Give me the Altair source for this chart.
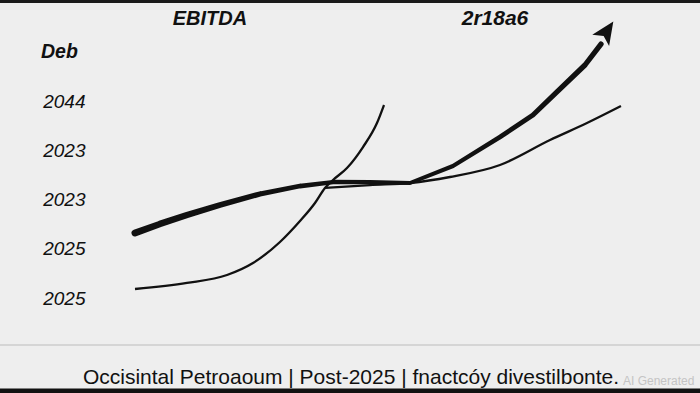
import altair as alt
import pandas as pd

# ---- data ----
y_ticks = [0, 1, 2, 3, 4]
y_labels = ["2025", "2025", "2023", "2023", "2044"]

# thick "EBITDA" line
thick_x = [0, 0.513, 1.068, 1.745, 2.567, 3.388, 4.066, 4.825, 5.647, 6.530, 7.495, 8.172, 8.665, 9.240, 9.569]
thick_y = [1.320, 1.503, 1.685, 1.888, 2.112, 2.274, 2.355, 2.355, 2.335, 2.680, 3.269, 3.716, 4.183, 4.731, 5.157]
thick_w = [7, 6.6, 6.2, 5.8, 5.3, 4.8, 4.3, 4.0, 4.0, 4.2, 4.6, 5.0, 5.2, 5.3, 5.3]

# arrow head at the end of the thick line
arrow_x = [9.678]
arrow_y = [5.401]

# thin line A (low curve rising steeply)
a_x = [0, 1.068, 1.889, 2.423, 2.977, 3.388, 3.696, 3.901, 4.066, 4.353, 4.682, 4.969, 5.113]
a_y = [0.183, 0.305, 0.467, 0.711, 1.137, 1.563, 1.929, 2.234, 2.396, 2.640, 3.066, 3.553, 3.919]

# thin line B (flat then rising)
b_x = [3.901, 4.825, 5.647, 6.468, 7.495, 8.522, 9.281, 9.979]
b_y = [2.234, 2.294, 2.335, 2.457, 2.701, 3.208, 3.553, 3.898]

axis_title = "Deb"
header_left = "EBITDA"
header_right = "2r18a6"
footer_text = "Occisintal Petroaoum | Post-2025 | fnactcóy  divestilbonte."
watermark = "AI Generated"

W, H = 700, 393
x_dom = [-2.772, 11.602]
y_dom = [-1.929, 6.051]
INK = "#111111"

xs = alt.Scale(domain=x_dom, nice=False, zero=False)
ys = alt.Scale(domain=y_dom, nice=False, zero=False)

thick_df = pd.DataFrame({"x": thick_x, "y": thick_y, "w": thick_w})
thick = alt.Chart(thick_df).mark_trail(color=INK).encode(
    x=alt.X("x:Q", scale=xs, axis=None),
    y=alt.Y("y:Q", scale=ys, axis=alt.Axis(
        values=y_ticks,
        labelExpr="[" + ",".join(f"'{l}'" for l in y_labels) + "][datum.value]",
        orient="left", offset=-86, labelPadding=1, ticks=False, domain=False, grid=False,
        labelFont="Liberation Sans", labelFontStyle="italic", labelFontSize=19,
        labelColor=INK, labelAlign="right", labelBaseline="middle", title=None)),
    size=alt.Size("w:Q", scale=alt.Scale(domain=[0, 10], range=[0, 10]), legend=None),
)

arrow = alt.Chart(pd.DataFrame({"x": arrow_x, "y": arrow_y})).mark_point(
    shape="M0,-1L0.8,0.8L0,0.38L-0.8,0.8Z", filled=True, color=INK,
    size=640, angle=33.7, opacity=1,
).encode(x=alt.X("x:Q", scale=xs), y=alt.Y("y:Q", scale=ys))

line_a = alt.Chart(pd.DataFrame({"x": a_x, "y": a_y})).mark_line(
    color=INK, strokeWidth=2.3, interpolate="monotone").encode(
    x=alt.X("x:Q", scale=xs), y=alt.Y("y:Q", scale=ys))
line_b = alt.Chart(pd.DataFrame({"x": b_x, "y": b_y})).mark_line(
    color=INK, strokeWidth=2.3, interpolate="monotone").encode(
    x=alt.X("x:Q", scale=xs), y=alt.Y("y:Q", scale=ys))

one = pd.DataFrame({"k": [0]})


def hrule(y, width, color):
    return alt.Chart(one).mark_rule(color=color, strokeWidth=width).encode(
        x=alt.value(0), x2=alt.value(W), y=alt.value(y))


def label(txt, x, y, size, weight="normal", style="normal", align="center",
          color=INK, font="Liberation Sans"):
    return alt.Chart(pd.DataFrame({"t": [txt]})).mark_text(
        fontSize=size, fontWeight=weight, fontStyle=style, align=align,
        baseline="middle", color=color, font=font,
    ).encode(text="t:N", x=alt.value(x), y=alt.value(y))


decor = [
    hrule(1.5, 3, "#1a1a1a"),
    hrule(345, 1.5, "#cccccc"),
    hrule(390.8, 4.5, "#111111"),
    label(axis_title, 41, 52, 19.5, "bold", "italic", "left"),
    label(header_left, 210, 19, 20, "bold", "italic"),
    label(header_right, 495, 19, 21, "bold", "italic"),
    label(footer_text, 351, 378, 21),
    label(watermark, 623, 381, 12, align="left", color="#c4c4c4"),
]

chart = alt.layer(thick, line_a, line_b, arrow, *decor).properties(
    width=W, height=H, padding=0, background="#eeeeee",
    autosize=alt.AutoSizeParams(type="none"),
).configure_view(strokeWidth=0)

chart.save("out.html", embed_options={"renderer": "svg", "actions": False})
